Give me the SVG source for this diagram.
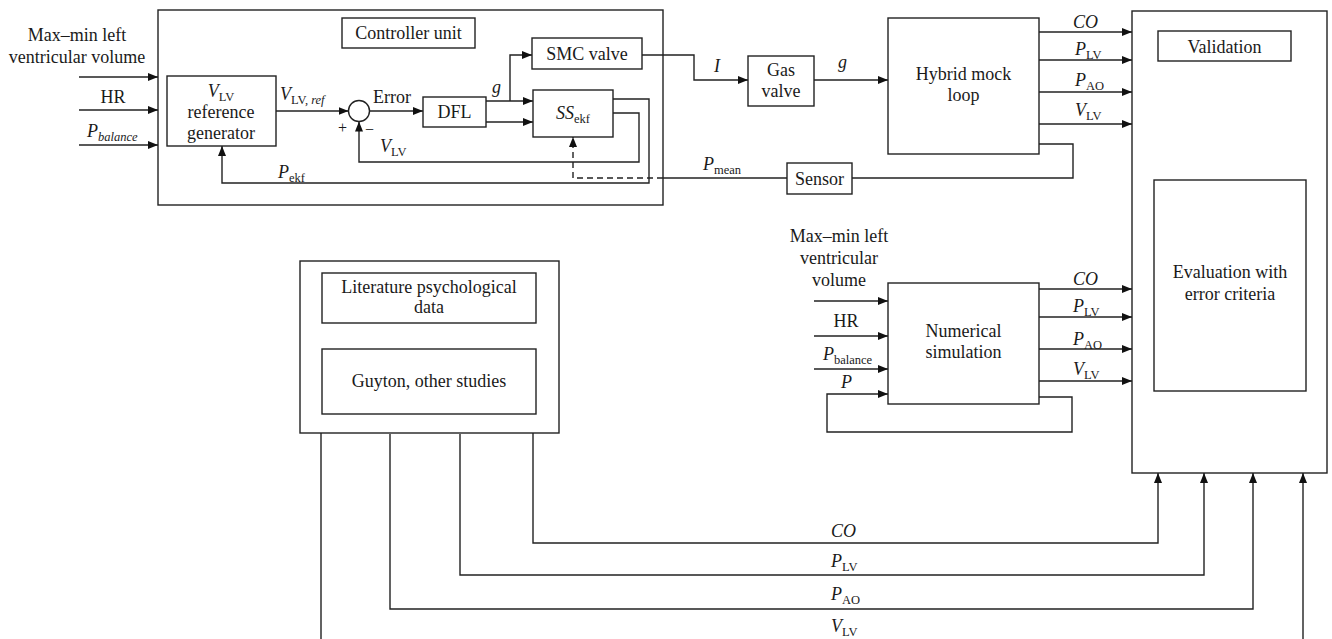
<svg xmlns="http://www.w3.org/2000/svg" width="1332" height="639" viewBox="0 0 1332 639">
<defs>
<style>
text{font-family:"Liberation Serif","Times New Roman",serif;font-size:18px;fill:#1a1a1a}
.m{text-anchor:middle}
.i{font-style:italic}
.s{font-size:12.5px}
rect,circle{fill:#fff;stroke:#222;stroke-width:1.4}
.c path,.c line{fill:none;stroke:#222;stroke-width:1.4}
.c .d{stroke-dasharray:6,4}
</style>
<marker id="a" markerUnits="userSpaceOnUse" markerWidth="10" markerHeight="8" refX="10" refY="4" orient="auto">
<path d="M0,0 L10,4 L0,8 z" fill="#111"/>
</marker>
</defs>
<rect x="0" y="0" width="1332" height="639" style="fill:#fff;stroke:none"/>

<g id="controller">
<rect x="158" y="10" width="505" height="195"/>
</g>
<g id="validation">
<rect x="1132" y="11" width="195" height="462"/>
</g>
<g id="literature">
<rect x="300" y="261" width="259" height="172"/>
</g>

<g class="c" id="connectors">
<line x1="79" y1="77" x2="158" y2="77" marker-end="url(#a)"/>
<line x1="79" y1="110" x2="158" y2="110" marker-end="url(#a)"/>
<line x1="79" y1="145" x2="158" y2="145" marker-end="url(#a)"/>
<line x1="276" y1="111" x2="348.5" y2="111" marker-end="url(#a)"/>
<line x1="369.5" y1="111" x2="423" y2="111" marker-end="url(#a)"/>
<line x1="486" y1="101" x2="533" y2="101" marker-end="url(#a)"/>
<path d="M510,101 V55 H532" marker-end="url(#a)"/>
<line x1="486" y1="122" x2="533" y2="122" marker-end="url(#a)"/>
<path d="M613,99 H649 V183 H222 V146" marker-end="url(#a)"/>
<path d="M613,113 H639 V162 H359 V121.5" marker-end="url(#a)"/>
<path class="d" d="M663,178 H573 V137" marker-end="url(#a)"/>
<line x1="663" y1="178" x2="787" y2="178"/>
<path d="M1039,144 H1073 V178 H852"/>
<path d="M642,55 H694 V80 H748" marker-end="url(#a)"/>
<line x1="814" y1="80" x2="888" y2="80" marker-end="url(#a)"/>
<line x1="1039" y1="32" x2="1132" y2="32" marker-end="url(#a)"/>
<line x1="1039" y1="60" x2="1132" y2="60" marker-end="url(#a)"/>
<line x1="1039" y1="92" x2="1132" y2="92" marker-end="url(#a)"/>
<line x1="1039" y1="124" x2="1132" y2="124" marker-end="url(#a)"/>
<line x1="814" y1="301" x2="888" y2="301" marker-end="url(#a)"/>
<line x1="814" y1="336" x2="888" y2="336" marker-end="url(#a)"/>
<line x1="814" y1="369" x2="888" y2="369" marker-end="url(#a)"/>
<path d="M1039,397 H1072 V432 H827 V394 H888" marker-end="url(#a)"/>
<line x1="1039" y1="289" x2="1132" y2="289" marker-end="url(#a)"/>
<line x1="1039" y1="317" x2="1132" y2="317" marker-end="url(#a)"/>
<line x1="1039" y1="349" x2="1132" y2="349" marker-end="url(#a)"/>
<line x1="1039" y1="381" x2="1132" y2="381" marker-end="url(#a)"/>
<path d="M533,433 V543 H1158 V473" marker-end="url(#a)"/>
<path d="M460,434 V575 H1204 V473" marker-end="url(#a)"/>
<path d="M390,434 V609 H1253 V473" marker-end="url(#a)"/>
<path d="M321,433 V655 H1303 V473" marker-end="url(#a)"/>
</g>

<g id="inputs-top">
<text class="m" x="77" y="41">Max–min left</text>
<text class="m" x="77" y="63">ventricular volume</text>
<text class="m" x="113" y="103">HR</text>
<text x="87" y="137"><tspan class="i">P</tspan><tspan class="s i" dy="4">balance</tspan></text>
</g>

<g id="controller-title">
<rect x="342" y="18" width="133" height="30"/>
<text class="m" x="408.5" y="39">Controller unit</text>
</g>

<g id="generator">
<rect x="167" y="76" width="109" height="70"/>
<text class="m" x="221" y="97"><tspan class="i">V</tspan><tspan class="s" dy="4">LV</tspan></text>
<text class="m" x="221" y="118">reference</text>
<text class="m" x="221" y="139">generator</text>
</g>

<g id="summing">
<circle cx="359" cy="111" r="10.5"/>
<text x="338" y="133" style="font-size:16px">+</text>
<text x="365" y="135" style="font-size:16px">−</text>
</g>

<g id="dfl">
<rect x="423" y="97" width="63" height="30"/>
<text class="m" x="454.5" y="118">DFL</text>
</g>

<g id="smc">
<rect x="532" y="38" width="110" height="31"/>
<text class="m" x="587" y="59.5">SMC valve</text>
</g>

<g id="ssekf">
<rect x="533" y="90" width="80" height="47"/>
<text class="m" x="573" y="119"><tspan class="i">SS</tspan><tspan class="s" dy="4">ekf</tspan></text>
</g>

<g id="gas">
<rect x="748" y="56" width="66" height="50"/>
<text class="m" x="781" y="76">Gas</text>
<text class="m" x="781" y="97">valve</text>
</g>

<g id="hybrid">
<rect x="888" y="18" width="151" height="136"/>
<text class="m" x="963.5" y="80">Hybrid mock</text>
<text class="m" x="963.5" y="101">loop</text>
</g>

<g id="sensor">
<rect x="787" y="163" width="65" height="31"/>
<text class="m" x="819.5" y="184.5">Sensor</text>
</g>

<g id="validation-title">
<rect x="1158" y="31" width="133" height="30"/>
<text class="m" x="1224.5" y="52.5">Validation</text>
</g>

<g id="evaluation">
<rect x="1154" y="180" width="152" height="211"/>
<text class="m" x="1230" y="278">Evaluation with</text>
<text class="m" x="1230" y="300">error criteria</text>
</g>

<g id="numerical">
<rect x="888" y="283" width="151" height="121"/>
<text class="m" x="963.5" y="337">Numerical</text>
<text class="m" x="963.5" y="358">simulation</text>
</g>

<g id="lit-data">
<rect x="322" y="273" width="214" height="50"/>
<text class="m" x="429" y="293">Literature psychological</text>
<text class="m" x="429" y="313">data</text>
</g>

<g id="guyton">
<rect x="322" y="349" width="214" height="65"/>
<text class="m" x="429" y="387">Guyton, other studies</text>
</g>

<g id="labels">
<text x="280" y="100"><tspan class="i">V</tspan><tspan class="s" dy="4">LV, </tspan><tspan class="s i">ref</tspan></text>
<text x="373" y="103">Error</text>
<text x="380" y="152"><tspan class="i">V</tspan><tspan class="s" dy="4">LV</tspan></text>
<text x="278" y="178"><tspan class="i">P</tspan><tspan class="s" dy="4">ekf</tspan></text>
<text class="i" x="492" y="93">g</text>
<text class="i m" x="717" y="72">I</text>
<text class="i" x="838" y="68">g</text>
<text x="703" y="170"><tspan class="i">P</tspan><tspan class="s" dy="4">mean</tspan></text>
<text class="i" x="1073" y="28">CO</text>
<text x="1075" y="55"><tspan class="i">P</tspan><tspan class="s" dy="4">LV</tspan></text>
<text x="1075" y="86"><tspan class="i">P</tspan><tspan class="s" dy="4">AO</tspan></text>
<text x="1075" y="116"><tspan class="i">V</tspan><tspan class="s" dy="4">LV</tspan></text>
<text class="m" x="839" y="242">Max–min left</text>
<text class="m" x="839" y="264">ventricular</text>
<text class="m" x="839" y="286">volume</text>
<text class="m" x="846" y="327">HR</text>
<text x="823" y="360"><tspan class="i">P</tspan><tspan class="s" dy="4">balance</tspan></text>
<text class="i" x="841" y="388">P</text>
<text class="i" x="1073" y="285">CO</text>
<text x="1073" y="312"><tspan class="i">P</tspan><tspan class="s" dy="4">LV</tspan></text>
<text x="1073" y="345"><tspan class="i">P</tspan><tspan class="s" dy="4">AO</tspan></text>
<text x="1073" y="375"><tspan class="i">V</tspan><tspan class="s" dy="4">LV</tspan></text>
<text class="i" x="831" y="537">CO</text>
<text x="831" y="567"><tspan class="i">P</tspan><tspan class="s" dy="4">LV</tspan></text>
<text x="831" y="600"><tspan class="i">P</tspan><tspan class="s" dy="4">AO</tspan></text>
<text x="831" y="632"><tspan class="i">V</tspan><tspan class="s" dy="4">LV</tspan></text>
</g>
</svg>
